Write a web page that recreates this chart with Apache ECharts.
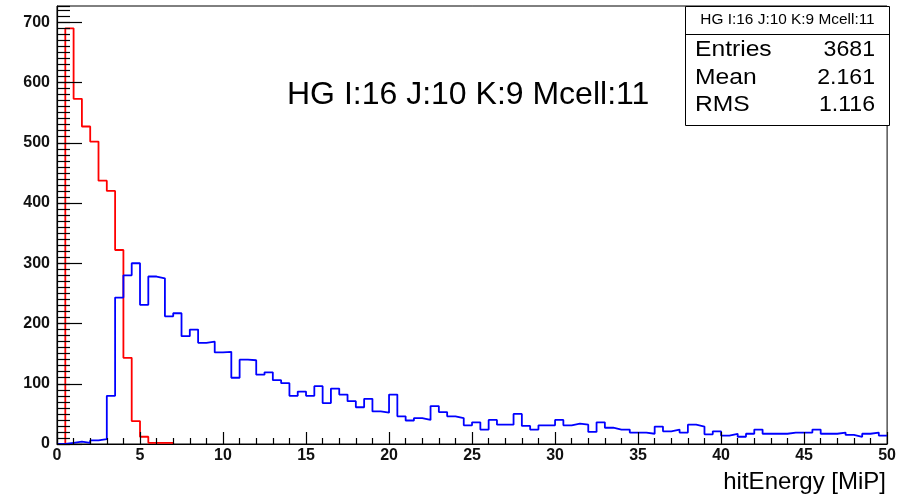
<!DOCTYPE html>
<html>
<head>
<meta charset="utf-8">
<script src="https://cdn.jsdelivr.net/npm/echarts@6/dist/echarts.min.js"></script>
<style>
  html, body { margin: 0; padding: 0; background: #ffffff; }
  #chart { width: 899px; height: 498px; }
</style>
</head>
<body>
<div id="chart"></div>
<script>
// Binning: 0.5 MiP wide bins starting at 0 MiP
const binWidth = 0.5;
const xMin = 0;
const xMax = 50;
const xTickStep = 5;
const xMinorSplit = 5;

const yMin = 0;
const yMax = 727;
const yTickStep = 100;
const yMinorStep = 10;

// Bin contents (first bin = [0, 0.5) MiP)
const countsRed = [0, 690, 573, 527, 502, 437, 420, 322, 143, 38, 12, 2, 2, 2];
const countsBlue = [
  0, 2, 4, 2, 6, 8, 80, 243, 280, 300,
  231, 278, 275, 212, 217, 179, 190, 168, 170, 152,
  153, 110, 140, 139, 115, 119, 106, 101, 80, 87,
  80, 96, 68, 92, 82, 71, 61, 75, 54, 52,
  82, 46, 39, 43, 40, 63, 53, 46, 43, 31,
  36, 24, 40, 32, 32, 50, 30, 24, 31, 31,
  40, 31, 34, 32, 20, 36, 27, 24, 24, 19,
  19, 17, 29, 21, 24, 19, 32, 29, 16, 21,
  14, 17, 12, 17, 24, 17, 17, 17, 19, 19,
  19, 24, 17, 17, 19, 15, 12, 17, 19, 14
];

// Texts
const plotTitle = 'HG I:16 J:10 K:9 Mcell:11';
const statsTitle = 'HG I:16 J:10 K:9 Mcell:11';
const statsNames = ['Entries', 'Mean', 'RMS'];
const statsValues = ['3681', '2.161', '1.116'];
const xTitle = 'hitEnergy [MiP]';

const FONT = '"Liberation Sans", Arial, Helvetica, sans-serif';

// Turn bin contents into step-line vertices at the bin low edges.
function outline(counts, dropToZero) {
  const pts = counts.map((c, i) => [xMin + i * binWidth, c]);
  const last = counts[counts.length - 1];
  pts.push([xMin + counts.length * binWidth, dropToZero ? 0 : last]);
  return pts;
}

const chart = echarts.init(document.getElementById('chart'), null, { renderer: 'canvas' });

const statsLeft = 685.5, statsRight = 889.5, statsTop = 6.5, statsBottom = 125.5, statsSplit = 34.5;
const rowY = [50, 78, 105];

const graphic = [
  {
    type: 'text', x: 287, y: 95, z: 20,
    style: { text: plotTitle, font: '32px ' + FONT, fill: '#000', textVerticalAlign: 'middle' }
  },
  {
    type: 'rect', z: 20,
    shape: { x: statsLeft, y: statsTop, width: statsRight - statsLeft, height: statsBottom - statsTop },
    style: { fill: '#fff', stroke: '#000', lineWidth: 1 }
  },
  {
    type: 'line', z: 21,
    shape: { x1: statsLeft, y1: statsSplit, x2: statsRight, y2: statsSplit },
    style: { stroke: '#000', lineWidth: 1 }
  },
  {
    type: 'text', x: (statsLeft + statsRight) / 2, y: 20, z: 22, scaleX: 1.1,
    style: { text: statsTitle, font: '14px ' + FONT, fill: '#000', textAlign: 'center', textVerticalAlign: 'middle' }
  },
  {
    type: 'text', x: 886, y: 482, z: 22,
    style: { text: xTitle, font: '24px ' + FONT, fill: '#000', textAlign: 'right', textVerticalAlign: 'middle' }
  }
];
statsNames.forEach((name, i) => {
  graphic.push({
    type: 'text', x: 695, y: rowY[i], z: 22, scaleX: 1.12,
    style: { text: name, font: '22px ' + FONT, fill: '#000', textAlign: 'left', textVerticalAlign: 'middle' }
  });
  graphic.push({
    type: 'text', x: 875, y: rowY[i], z: 22, scaleX: 1.05,
    style: { text: statsValues[i], font: '22px ' + FONT, fill: '#000', textAlign: 'right', textVerticalAlign: 'middle' }
  });
});

const option = {
  animation: false,
  backgroundColor: '#ffffff',
  grid: {
    left: 57, right: 10, top: 6, bottom: 54,
    show: true, borderColor: '#000', borderWidth: 1, backgroundColor: 'transparent'
  },
  xAxis: {
    type: 'value', min: xMin, max: xMax, interval: xTickStep, z: 5,
    axisLine: { show: true, onZero: false, lineStyle: { color: '#000', width: 1.2 } },
    axisTick: { show: true, inside: true, length: 12, lineStyle: { color: '#000', width: 1.2 } },
    minorTick: { show: true, splitNumber: xMinorSplit, length: 6, lineStyle: { color: '#000', width: 1.2 } },
    splitLine: { show: false },
    axisLabel: { color: '#111', fontFamily: FONT, fontSize: 16, fontWeight: 'bold', margin: 4 }
  },
  yAxis: [
    {
      type: 'value', min: yMin, max: yMax, interval: yTickStep, z: 5,
      axisLine: { show: true, onZero: false, lineStyle: { color: '#000', width: 1.2 } },
      axisTick: { show: true, inside: true, length: 25, lineStyle: { color: '#000', width: 1.2 } },
      splitLine: { show: false },
      axisLabel: { color: '#111', fontFamily: FONT, fontSize: 16, fontWeight: 'bold', margin: 7, showMaxLabel: false }
    },
    {
      type: 'value', min: yMin, max: yMax, interval: yMinorStep, position: 'left', z: 5,
      axisLine: { show: false },
      axisTick: { show: true, inside: true, length: 13, lineStyle: { color: '#000', width: 1.2 } },
      splitLine: { show: false },
      axisLabel: { show: false }
    }
  ],
  series: [
    {
      type: 'line', step: 'end', symbol: 'none', yAxisIndex: 0,
      data: outline(countsRed, true),
      lineStyle: { color: '#ff0000', width: 1.8 },
      z: 2
    },
    {
      type: 'line', step: 'end', symbol: 'none', yAxisIndex: 0,
      data: outline(countsBlue, false),
      lineStyle: { color: '#0000ff', width: 1.8 },
      z: 3
    }
  ],
  graphic: graphic
};

chart.setOption(option);
</script>
</body>
</html>
